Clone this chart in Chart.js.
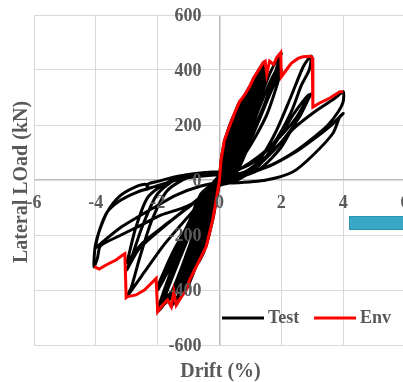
<!DOCTYPE html>
<html>
<head>
<meta charset="utf-8">
<script src="https://cdn.jsdelivr.net/npm/chart.js@4/dist/chart.umd.min.js"></script>
<style>
  html, body { margin: 0; padding: 0; background: #fff; overflow: hidden; }
  #wrap { position: relative; width: 420px; height: 382px; }
</style>
</head>
<body>
<div id="wrap"><canvas id="c" width="420" height="382"></canvas></div>
<script>
// ---- Tick labels ----
const xTicks = [-6, -4, -2, 0, 2, 4, 6];
const yTicks = [-600, -400, -200, 0, 200, 400, 600];

// ---- Test series: hysteresis cycles [drift %, load kN] ----
const c01 = [[0,0],[0.04,60],[0.16,140],[0.09,60],[0,-5],[-0.08,-60],[-0.22,-140],[-0.12,-50],[0,5]];
const c02 = [[0.05,60],[0.15,135],[0.32,190],[0.2,100],[0.05,10],[-0.05,-40],[-0.2,-135],[-0.43,-238],[-0.25,-120],[-0.03,-5]];
const c03 = [[0.05,40],[0.2,150],[0.35,205],[0.49,240],[0.3,130],[0.1,25],[0,0],[-0.05,-30],[-0.25,-150],[-0.5,-260],[-0.7,-300],[-0.45,-170],[-0.15,-40],[0,10]];
const c04 = [[0.08,40],[0.3,170],[0.5,245],[0.65,283],[0.42,160],[0.15,40],[0,0],[-0.1,-40],[-0.4,-200],[-0.75,-310],[-0.97,-362],[-0.6,-200],[-0.2,-50],[0,10]];
const c05 = [[0.1,40],[0.4,180],[0.65,270],[0.81,307],[0.5,160],[0.2,40],[0,0],[-0.15,-50],[-0.5,-220],[-0.85,-340],[-1.08,-398],[-0.7,-220],[-0.25,-60],[0,10]];
const c06 = [[0.12,35],[0.5,190],[0.8,300],[0.97,337],[0.6,170],[0.2,35],[0,0],[-0.2,-50],[-0.6,-230],[-1.0,-360],[-1.3,-434],[-0.85,-240],[-0.3,-60],[0,10]];
const c06b = [[0.15,30],[0.55,180],[0.85,290],[0.95,320],[0.55,150],[0.2,30],[0,0],[-0.25,-60],[-0.7,-260],[-1.05,-370],[-1.2,-405],[-0.8,-230],[-0.3,-60],[0,10]];
const c07 = [[0.15,30],[0.6,200],[0.95,330],[1.13,374],[0.7,190],[0.25,40],[0,0],[-0.25,-50],[-0.7,-240],[-1.1,-385],[-1.4,-452],[-0.95,-260],[-0.35,-70],[0,10]];
const c08 = [[0.2,30],[0.7,210],[1.1,360],[1.3,404],[0.85,210],[0.3,45],[0,0],[-0.3,-50],[-0.8,-250],[-1.25,-400],[-1.56,-458],[-1.1,-280],[-0.4,-75],[0,10]];
const c09 = [[0.25,30],[0.8,220],[1.25,380],[1.44,428],[1.0,240],[0.4,55],[0,0],[-0.35,-50],[-0.9,-250],[-1.45,-410],[-1.84,-453],[-1.3,-290],[-0.5,-80],[0,10]];
const c09b = [[0.3,30],[0.85,220],[1.25,360],[1.45,405],[1.1,270],[0.5,70],[0,0],[-0.45,-60],[-1.0,-270],[-1.5,-400],[-1.8,-430],[-1.35,-300],[-0.6,-100],[0,10]];
const c10 = [[0.3,25],[0.9,200],[1.3,330],[1.51,388],[1.05,220],[0.4,50],[0,0],[-0.4,-50],[-1.0,-250],[-1.6,-420],[-2.0,-477],[-1.45,-300],[-0.5,-80],[0,10]];
const c11 = [[0.4,30],[1.0,200],[1.6,380],[1.94,455],[2.0,461],[1.4,260],[0.5,60],[0,0],[-0.5,-40],[-1.2,-230],[-1.7,-340],[-2.0,-388],[-1.45,-250],[-0.5,-70],[0,10]];
const c11b = [[0.45,25],[1.1,210],[1.65,360],[1.95,420],[1.5,280],[0.7,90],[0,0],[-0.6,-50],[-1.3,-250],[-1.8,-360],[-2.0,-400],[-1.6,-300],[-0.7,-90],[0,15]];
const c12 = [[0.5,20],[1.1,170],[1.7,330],[2.0,400],[1.5,230],[0.6,60],[0,25],[-1.0,10],[-1.7,-40],[-2.2,-150],[-2.6,-290],[-2.85,-390],[-3.0,-424],[-2.38,-327],[-1.84,-242],[-1.3,-170],[-0.6,-80],[0,0]];
const c13 = [[0.5,10],[1.2,60],[1.8,170],[2.3,300],[2.7,410],[2.92,448],[2.97,450],[2.9,400],[2.65,345],[2.32,248],[1.78,139],[1.13,67],[0.4,30],[0,28],[-1.2,15],[-2.0,-50],[-2.5,-170],[-2.85,-285],[-3.0,-327],[-2.6,-250],[-1.8,-170],[-0.9,-90],[0,-10]];
const c13b = [[0.5,5],[1.25,50],[1.9,150],[2.4,240],[2.8,300],[2.9,310],[2.5,230],[1.9,150],[1.2,80],[0.4,25],[0,20],[-1.5,0],[-2.3,-60],[-2.7,-170],[-2.95,-280],[-3.0,-300],[-2.5,-230],[-1.6,-150],[-0.7,-70],[0,0]];
const c14 = [[0.5,5],[1.3,40],[2.0,120],[2.5,220],[2.9,300],[2.95,312],[2.59,230],[2.05,145],[1.51,85],[0.97,36],[0.3,15],[0,30],[-1.3,15],[-2.0,-5],[-2.3,-14],[-2.33,-34],[-2.37,-16],[-2.66,-22],[-3.2,-56],[-3.63,-116],[-3.9,-189],[-4.01,-235],[-4.05,-275],[-4.06,-316],[-3.95,-285],[-3.85,-240],[-3.2,-201],[-2.55,-165],[-1.9,-128],[-1.08,-97],[-0.1,-36],[0,-20]];
const c15 = [[0.5,-5],[1.13,40],[1.78,110],[2.43,190],[3.08,248],[3.73,297],[4.0,321],[4.0,285],[3.84,248],[3.51,200],[3.08,158],[2.43,103],[1.68,55],[0.8,20],[0,20],[-1.2,5],[-2.12,-25],[-2.66,-44],[-3.2,-74],[-3.63,-116],[-3.9,-189],[-4.0,-245],[-3.85,-232],[-3.24,-176],[-2.16,-103],[-1.4,-55],[-0.6,-22],[0,-10]];
const c16 = [[0.43,-11],[1.51,0],[2.38,30],[3.03,91],[3.67,170],[3.89,230],[4.0,242],[3.62,200],[3.08,152],[2.43,100],[1.6,50],[0.6,15],[0,0]];
const testCycles = [c01,c02,c03,c04,c05,c06,c06b,c07,c08,c09,c09b,c10,c11,c11b,c12,c13,c13b,c14,c15,c16];

// ---- Env series: envelope [drift %, load kN] ----
const envCurve = [[-4.05,-315],[-3.89,-324],[-3.67,-309],[-3.35,-291],[-3.13,-273],[-3.06,-268],[-3.02,-428],[-2.97,-424],[-2.70,-418],[-2.43,-400],[-2.21,-376],[-2.05,-358],[-2.0,-479],[-1.84,-455],[-1.68,-436],[-1.56,-461],[-1.48,-406],[-1.40,-455],[-1.30,-436],[-1.08,-400],[-0.97,-364],[-0.70,-303],[-0.43,-242],[-0.22,-145],[-0.09,-61],[0,0],[0.05,73],[0.16,145],[0.32,194],[0.49,243],[0.65,285],[0.81,309],[0.97,339],[1.13,376],[1.30,406],[1.40,425],[1.48,432],[1.53,385],[1.62,432],[1.75,420],[1.85,445],[1.98,463],[2.0,375],[2.16,400],[2.32,424],[2.54,442],[2.70,448],[2.95,450],[3.0,445],[3.02,265],[3.24,280],[3.57,298],[3.89,321],[4.0,321]];

const seriesNames = ['Test', 'Env'];
const axisTitles = { x: 'Drift (%)', y: 'Lateral LOad (kN)' };

const toPts = arr => arr.map(p => ({ x: p[0], y: p[1] }));
const testPts = toPts(testCycles.flat());
const envPts = toPts(envCurve);

const TXT = '#595959';
const SERIF = '"Liberation Serif", "Times New Roman", serif';

const overlay = {
  id: 'overlay',
  afterDraw(chart) {
    const ctx = chart.ctx;
    const xs = chart.scales.x, ys = chart.scales.y;
    const x0 = xs.getPixelForValue(0), y0 = ys.getPixelForValue(0);
    ctx.save();
    // stray teal box from the source image
    ctx.fillStyle = '#39a8c6';
    ctx.fillRect(349, 216, 80, 14);
    ctx.strokeStyle = '#2b93b0';
    ctx.lineWidth = 1;
    ctx.strokeRect(349.5, 216.5, 80, 13);
    // tick labels at axis crossing
    ctx.fillStyle = TXT;
    ctx.font = 'bold 18px ' + SERIF;
    ctx.textBaseline = 'alphabetic';
    ctx.textAlign = 'right';
    yTicks.forEach(v => ctx.fillText(String(v), x0 - 18, ys.getPixelForValue(v) + 6));
    ctx.textAlign = 'center';
    xTicks.forEach(v => ctx.fillText(String(v), xs.getPixelForValue(v), y0 + 28));
    // axis titles
    ctx.font = 'bold 20px ' + SERIF;
    ctx.textAlign = 'center';
    ctx.fillText(axisTitles.x, x0 + 1, 377);
    ctx.save();
    ctx.translate(27, 182);
    ctx.rotate(-Math.PI / 2);
    ctx.fillText(axisTitles.y, 0, 0);
    ctx.restore();
    // legend
    const ds = chart.data.datasets;
    ctx.lineWidth = 3;
    ctx.font = 'bold 18px ' + SERIF;
    ctx.textAlign = 'left';
    ctx.textBaseline = 'middle';
    const items = [{ x: 222, d: ds[0] }, { x: 314, d: ds[1] }];
    items.forEach(it => {
      ctx.strokeStyle = it.d.borderColor;
      ctx.beginPath();
      ctx.moveTo(it.x, 318);
      ctx.lineTo(it.x + 42, 318);
      ctx.stroke();
      ctx.fillStyle = TXT;
      ctx.fillText(it.d.label, it.x + 46, 318);
    });
    ctx.restore();
  }
};

new Chart(document.getElementById('c'), {
  type: 'scatter',
  data: {
    datasets: [
      { label: seriesNames[0], data: testPts, showLine: true, borderColor: '#000000', backgroundColor: '#000000',
        borderWidth: 3, pointRadius: 0, tension: 0.25, order: 1 },
      { label: seriesNames[1], data: envPts, showLine: true, borderColor: '#ff0000', backgroundColor: '#ff0000',
        borderWidth: 3, pointRadius: 0, tension: 0, order: 0 }
    ]
  },
  options: {
    responsive: false,
    animation: false,
    devicePixelRatio: 1,
    layout: { padding: { left: 34, top: 15, right: 15, bottom: 37 } },
    plugins: { legend: { display: false }, tooltip: { enabled: false } },
    scales: {
      x: {
        type: 'linear', min: -6, max: 6,
        ticks: { display: false, stepSize: 2 },
        grid: { drawTicks: false, color: c => c.tick && c.tick.value === 0 ? '#bcbcbc' : '#d9d9d9', lineWidth: c => c.tick && c.tick.value === 0 ? 1.5 : 1 },
        border: { display: false }
      },
      y: {
        type: 'linear', min: -600, max: 600,
        ticks: { display: false, stepSize: 200 },
        grid: { drawTicks: false, color: c => c.tick && c.tick.value === 0 ? '#bcbcbc' : '#d9d9d9', lineWidth: c => c.tick && c.tick.value === 0 ? 1.5 : 1 },
        border: { display: false }
      }
    }
  },
  plugins: [overlay]
});
</script>
</body>
</html>
